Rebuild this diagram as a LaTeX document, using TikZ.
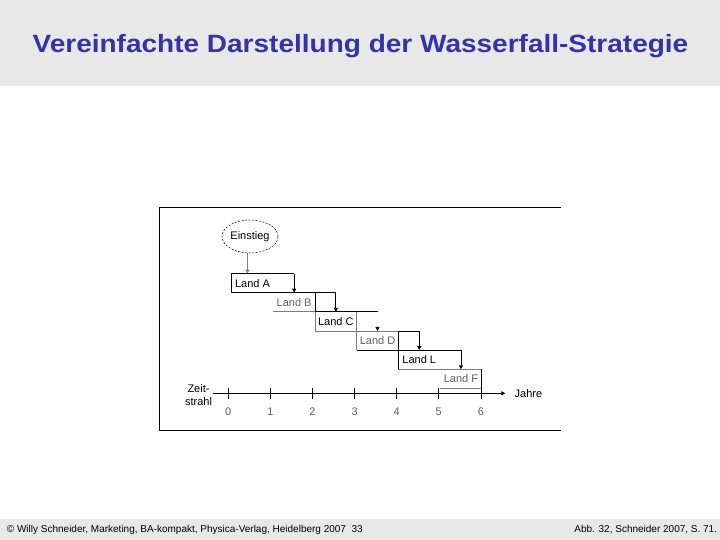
\documentclass[tikz,border=0pt]{standalone}
\usepackage{fontspec}
\setmainfont{Liberation Sans}
\usetikzlibrary{arrows.meta}
\usetikzlibrary{shapes.geometric}
\definecolor{titleblue}{RGB}{51,51,170}
\definecolor{bandgray}{RGB}{232,232,232}
\definecolor{linegray}{RGB}{125,125,125}
\definecolor{textgray}{RGB}{95,95,95}

\begin{document}
\begin{tikzpicture}[x=1pt,y=-1pt]
    \tikzstyle{band}=[fill=bandgray,draw=none]
    \tikzstyle{frame}=[draw,line width = .8pt,-,black]
    \tikzstyle{edge}=[draw,line width = .75pt,-,black]
    \tikzstyle{grayedge}=[draw,line width = .75pt,-,linegray]
    \tikzstyle{arrow}=[draw,line width = .75pt,-{Triangle[length=4pt,width=4pt]},black]
    \tikzstyle{grayarrow}=[arrow,line width=1.2pt,linegray]
    \tikzstyle{title}=[font=\fontsize{25}{30}\selectfont\bfseries,text=titleblue,anchor=base,xscale=1.12]
    \tikzstyle{foot}=[font=\fontsize{10}{12}\selectfont,inner sep=0pt]
    \tikzstyle{label}=[font=\fontsize{11}{13}\selectfont,inner sep=0pt]
    \tikzstyle{dimlabel}=[label,text=textgray]
    \tikzstyle{entrybox}=[ellipse,draw,dash pattern=on 2pt off 1.5pt,line width=.5pt,
        minimum width=56,minimum height=33,inner sep=0pt,font=\fontsize{11}{13}\selectfont]
    \useasboundingbox (0,0) rectangle (720,540);
    % head and foot bands
    \fill[band] (0,0) rectangle (720,86);
    \fill[band] (0,519) rectangle (720,540);
    \node[title] (head) at (360.5,53) {Vereinfachte Darstellung der Wasserfall-Strategie};
    \node[foot,anchor=base west] (source) at (6.7,532.7) {\textcopyright{} Willy Schneider, Marketing, BA-kompakt, Physica-Verlag, Heidelberg 2007\ \ 33};
    \node[foot,anchor=base east] (figref) at (717.3,532.7) {Abb. 32, Schneider 2007, S. 71.};
    % frame, open on the right
    \draw[frame] (561,207.3) -- (159.5,207.3) -- (159.5,430) -- (561,430);
    \node[entrybox] (entry) at (250,236.5) {Einstieg};
    % waterfall steps
    \begin{scope}[shift={(231.6,273.5)},x=41.7pt,y=-19.15pt]
        \draw[edge] (1.5,0) -- (0,0) -- (0,1) -- (2,1);
        \draw[edge] (2,1) -- (2.5,1);
        \draw[edge] (2,1) -- (2,2);
        \draw[grayedge] (1,2) -- (2,2);
        \draw[edge] (2,2) -- (3.5,2);
        \draw[grayedge] (2,2) -- (2,3);
        \draw[grayedge] (3,2) -- (3,3);
        \draw[grayedge] (2,3) -- (4,3);
        \draw[grayedge] (3,3) -- (3,4);
        \draw[edge] (4,3) -- (4.5,3);
        \draw[edge] (4,3) -- (4,4);
        \draw[edge] (3,4) -- (5.5,4);
        \draw[edge] (4,4) -- (4,5);
        \draw[grayedge] (4,5) -- (6,5);
        \draw[edge] (6,5) -- (6,6);
        \draw[grayedge] (5,6) -- (6,6);
        \coordinate (atop) at (0.38,0);
        \draw[grayarrow] (entry.south -| atop) -- (atop);
        \foreach \k/\j in {1.5/0,2.5/1,4.5/3,5.5/4} {
            \coordinate (s\j) at (\k,\j);
            \coordinate (e\j) at (\k,\j+1);
            \draw[arrow] (s\j) -- (e\j);
        }
        \coordinate (s2) at (3.5,2.77);
        \coordinate (e2) at (3.5,3);
        \draw[arrow] (s2) -- (e2);
        \node[label] (landA) at (0.5,0.5) {Land A};
        \node[dimlabel] (landB) at (1.5,1.5) {Land B};
        \node[label] (landC) at (2.5,2.5) {Land C};
        \node[dimlabel] (landD) at (3.5,3.5) {Land D};
        \node[label] (landL) at (4.5,4.5) {Land L};
        \node[dimlabel] (landF) at (5.5,5.5) {Land F};
    \end{scope}
    % time line
    \begin{scope}[shift={(228.3,0)},x=42.1pt]
        \coordinate (axstart) at (-0.36,393.3);
        \coordinate (axend) at (6.58,393.3);
        \draw[arrow] (axstart) -- (axend);
        \foreach \k in {0,...,6} {
            \draw[edge] (\k,388) -- (\k,399);
            \node[dimlabel] (y\k) at (\k,412) {\k};
        }
    \end{scope}
    \node[label,align=center] (timeline) at (198.5,395) {Zeit-\\strahl};
    \node[label,anchor=west] (years) at (514.5,393.3) {Jahre};
\end{tikzpicture}
\end{document}
